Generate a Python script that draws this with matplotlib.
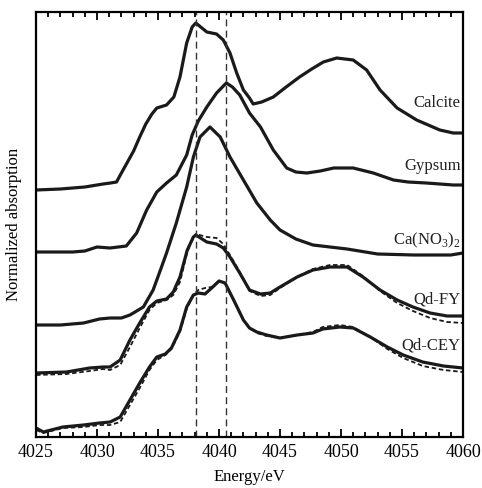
import numpy as np
import matplotlib
matplotlib.use("Agg")
import matplotlib.pyplot as plt

plt.rcParams['font.family'] = ['Liberation Serif', 'DejaVu Serif']
plt.rcParams['mathtext.fontset'] = 'custom'
plt.rcParams['mathtext.rm'] = 'Liberation Serif'

# Spectra (energy in eV, normalized absorption incl. stacking offset)
calcite_e = [4025, 4027, 4029, 4030.5, 4031.1, 4031.6, 4032, 4033, 4033.5, 4034, 4034.5,
             4034.9, 4035.7, 4036.3, 4036.8, 4037.35, 4037.8, 4038.1, 4038.6, 4039.0, 4039.8,
             4040.35, 4040.9, 4041.45, 4042.0, 4042.5, 4042.8, 4043.5, 4044.45, 4045.5, 4046.6,
             4047.6, 4048.55, 4049.65, 4051.0, 4052.1, 4053.2, 4054.6, 4056.2, 4058.1, 4059.2,
             4060]
calcite_y = [2.47, 2.48, 2.50, 2.53, 2.54, 2.55, 2.64, 2.86, 3.00, 3.13, 3.23,
             3.29, 3.32, 3.40, 3.60, 3.94, 4.10, 4.14, 4.09, 4.05, 4.03,
             3.97, 3.84, 3.64, 3.47, 3.39, 3.33, 3.35, 3.40, 3.50, 3.60,
             3.68, 3.75, 3.79, 3.77, 3.67, 3.47, 3.29, 3.17, 3.07, 3.04,
             3.04]

gypsum_e = [4025, 4028, 4029, 4030, 4031.07, 4032.4, 4033.25, 4034.07, 4034.9, 4035.7,
            4036.5, 4037.35, 4037.8, 4038.3, 4039.0, 4039.8, 4040.6, 4041.1, 4041.7, 4042.5,
            4043.4, 4044.45, 4045.55, 4046.3, 4047.2, 4048.3, 4049.4, 4051.0, 4052.65, 4054.3,
            4055.5, 4057.0, 4059.2, 4060]
gypsum_y = [1.85, 1.85, 1.86, 1.90, 1.89, 1.91, 2.04, 2.27, 2.45, 2.54,
            2.62, 2.82, 3.02, 3.16, 3.30, 3.44, 3.54, 3.50, 3.42, 3.24,
            3.10, 2.87, 2.69, 2.65, 2.64, 2.66, 2.69, 2.69, 2.64, 2.57,
            2.55, 2.54, 2.52, 2.52]

nitrate_e = [4025, 4027, 4028.9, 4030.2, 4031.07, 4032.0, 4032.7, 4033.8, 4034.6, 4035.2,
             4035.7, 4036.5, 4037.35, 4037.9, 4038.44, 4039.26, 4040.1, 4040.9, 4042.0, 4043.1,
             4044.2, 4045, 4046.3, 4047.7, 4050.5, 4053, 4056, 4059, 4060]
nitrate_y = [1.12, 1.12, 1.14, 1.18, 1.19, 1.19, 1.22, 1.30, 1.47, 1.67,
             1.84, 2.14, 2.50, 2.80, 3.00, 3.10, 3.00, 2.80, 2.57, 2.34,
             2.17, 2.07, 1.98, 1.92, 1.88, 1.83, 1.82, 1.82, 1.84]

fy_e = [4025, 4027.5, 4029.4, 4030.5, 4031.07, 4031.9, 4032.7, 4033.5, 4034.3, 4034.9,
        4035.7, 4036.25, 4036.8, 4037.4, 4037.9, 4038.1, 4039.0, 4039.8, 4040.35, 4040.9,
        4041.7, 4042.5, 4043.4, 4044.2, 4045, 4046.4, 4047.7, 4049.1, 4050.5, 4051.8,
        4053.2, 4054.6, 4055.9, 4057.3, 4058.7, 4060]
fy_y = [0.64, 0.65, 0.69, 0.70, 0.70, 0.77, 0.97, 1.14, 1.30, 1.36,
        1.38, 1.45, 1.60, 1.87, 2.00, 2.02, 1.95, 1.93, 1.89, 1.80,
        1.64, 1.47, 1.43, 1.44, 1.50, 1.60, 1.67, 1.70, 1.70, 1.60,
        1.47, 1.37, 1.30, 1.24, 1.21, 1.21]
fy_fit_y = [0.62, 0.63, 0.66, 0.68, 0.67, 0.72, 0.90, 1.09, 1.27, 1.34,
            1.37, 1.42, 1.55, 1.85, 2.00, 2.03, 2.00, 1.99, 1.93, 1.82,
            1.65, 1.46, 1.41, 1.42, 1.49, 1.60, 1.68, 1.72, 1.72, 1.61,
            1.46, 1.34, 1.26, 1.19, 1.15, 1.14]

cey_e = [4025, 4025.6, 4027.2, 4028.9, 4030.2, 4031.07, 4031.9, 4032.7, 4033.5, 4034.3,
         4034.9, 4035.6, 4036.1, 4036.8, 4037.35, 4037.9, 4038.3, 4038.85, 4039.4, 4040.0,
         4040.5, 4041.2, 4042.0, 4042.5, 4043.1, 4043.9, 4045, 4046.4, 4047.7, 4048.5,
         4049.9, 4051, 4052.4, 4053.8, 4055.1, 4056.7, 4058.4, 4060]
cey_y = [0.09, 0.05, 0.10, 0.12, 0.14, 0.15, 0.20, 0.37, 0.54, 0.70,
         0.80, 0.83, 0.89, 1.07, 1.30, 1.42, 1.44, 1.43, 1.49, 1.56,
         1.54, 1.37, 1.17, 1.09, 1.05, 1.02, 0.99, 1.02, 1.04, 1.08,
         1.10, 1.09, 1.00, 0.90, 0.82, 0.75, 0.71, 0.69]
cey_fit_y = [0.07, 0.04, 0.09, 0.10, 0.12, 0.12, 0.15, 0.32, 0.49, 0.67,
             0.77, 0.82, 0.88, 1.05, 1.28, 1.42, 1.47, 1.49, 1.50, 1.56,
             1.54, 1.37, 1.17, 1.09, 1.04, 1.01, 0.99, 1.02, 1.05, 1.10,
             1.12, 1.10, 1.00, 0.88, 0.79, 0.71, 0.67, 0.65]

labels = ['Calcite', 'Gypsum', 'Ca(NO$_3$)$_2$', 'Qd-FY', 'Qd-CEY']
label_y = [3.34, 2.71, 1.97, 1.38, 0.92]
ref_lines = [4038.1, 4040.6]

fig = plt.figure(figsize=(4.82, 4.88), dpi=100)
ax = fig.add_axes([0.0747, 0.1045, 0.8859, 0.8709])

lw = 2.3
ink = '#1a1a1a'
for e, y in [(calcite_e, calcite_y), (gypsum_e, gypsum_y), (nitrate_e, nitrate_y),
             (fy_e, fy_y), (cey_e, cey_y)]:
    ax.plot(e, y, color=ink, lw=lw, solid_joinstyle='round', solid_capstyle='round')
ax.plot(fy_e, fy_fit_y, color=ink, lw=1.3, ls=(0, (2.5, 1.5)))
ax.plot(cey_e, cey_fit_y, color=ink, lw=1.3, ls=(0, (2.5, 1.5)))

for x in ref_lines:
    ax.axvline(x, color='#333333', lw=1.0, ls=(0, (5, 3)))

for lab, y in zip(labels, label_y):
    ax.text(4059.8, y, lab, ha='right', va='center', fontsize=12, color='#222222')

ax.set_xlim(4025, 4060)
ax.set_ylim(0, 4.25)
ax.set_xticks(np.arange(4025, 4061, 5))
ax.set_xticks(np.arange(4025, 4061, 1), minor=True)
ax.set_yticks([])
ax.tick_params(axis='x', which='both', direction='in', top=True, labelsize=13, width=1.3)
ax.tick_params(axis='x', which='major', length=6, pad=5)
ax.tick_params(axis='x', which='minor', length=3.5)
for s in ax.spines.values():
    s.set_linewidth(1.6)

ax.set_xlabel('Energy/eV', fontsize=12, labelpad=6)
ax.set_ylabel('Normalized absorption', fontsize=12, labelpad=10)

fig.savefig('out.png', dpi=100)
